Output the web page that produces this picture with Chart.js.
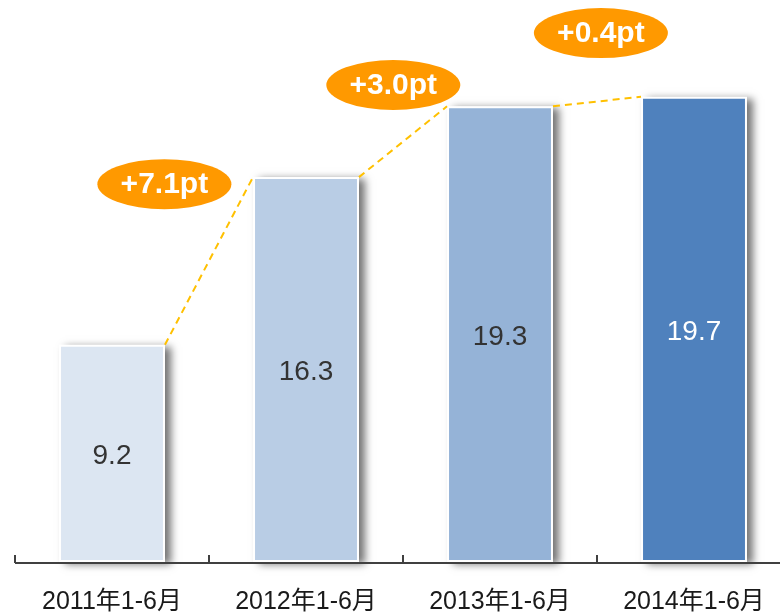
<!DOCTYPE html>
<html>
<head>
<meta charset="utf-8">
<script src="https://cdn.jsdelivr.net/npm/chart.js@4"></script>
<style>
    html, body { margin: 0; padding: 0; background: #fff; overflow: hidden; }
    #wrap { width: 780px; height: 613px; overflow: hidden; }
</style>
</head>
<body>
<div id="wrap"><canvas id="chart" width="791" height="613"></canvas></div>
<script>
// données
const categories = ['2011年1-6月', '2012年1-6月', '2013年1-6月', '2014年1-6月'];
const values = [9.2, 16.3, 19.3, 19.7];
const changeLabels = ['+7.1pt', '+3.0pt', '+0.4pt'];

// styles
const barColors = ['#DCE6F2', '#B9CDE5', '#95B3D7', '#4F81BD'];
const valueColors = ['#333333', '#333333', '#333333', '#FFFFFF'];
// position des bulles en unités de données (x = index catégorie, y = valeur)
const bubblePos = [
    { x: 0.27, y: 16.0 },
    { x: 1.45, y: 20.2 },
    { x: 2.52, y: 22.4 }
];
const FONT = 'Arial, "Liberation Sans", "Noto Sans CJK SC", sans-serif';

const decorPlugin = {
    id: 'decor',
    beforeDatasetsDraw(chart) {
        const ctx = chart.ctx;
        const meta = chart.getDatasetMeta(0);
        // ombre portée des barres
        meta.data.forEach(bar => {
            const w = bar.width;
            ctx.save();
            ctx.shadowColor = 'rgba(0,0,0,0.55)';
            ctx.shadowBlur = 8;
            ctx.shadowOffsetX = 6;
            ctx.shadowOffsetY = 2;
            ctx.fillStyle = '#fff';
            ctx.fillRect(bar.x - w / 2, bar.y, w, bar.base - bar.y);
            ctx.restore();
        });
    },
    afterDatasetsDraw(chart) {
        const ctx = chart.ctx;
        const xs = chart.scales.x;
        const ys = chart.scales.y;
        const meta = chart.getDatasetMeta(0);
        const area = chart.chartArea;

        // axe horizontal + graduations
        const axisY = area.bottom + 1;
        const half = (xs.getPixelForValue(1) - xs.getPixelForValue(0)) / 2;
        ctx.save();
        ctx.strokeStyle = '#404040';
        ctx.lineWidth = 2;
        ctx.beginPath();
        ctx.moveTo(area.left, axisY);
        ctx.lineTo(chart.width, axisY);
        for (let i = 0; i <= categories.length; i++) {
            const xb = Math.round(xs.getPixelForValue(i) - half);
            ctx.moveTo(xb, axisY);
            ctx.lineTo(xb, axisY - 8);
        }
        ctx.stroke();
        ctx.restore();

        // valeurs dans les barres
        ctx.save();
        ctx.font = '28px ' + FONT;
        ctx.textAlign = 'center';
        ctx.textBaseline = 'middle';
        meta.data.forEach((bar, i) => {
            ctx.fillStyle = valueColors[i];
            ctx.fillText(values[i].toFixed(1), bar.x, (bar.y + bar.base) / 2 + 3);
        });
        ctx.restore();

        // lignes pointillées entre les barres
        ctx.save();
        ctx.strokeStyle = '#FFC000';
        ctx.lineWidth = 2;
        ctx.setLineDash([7, 5]);
        for (let i = 0; i < meta.data.length - 1; i++) {
            const a = meta.data[i];
            const b = meta.data[i + 1];
            ctx.beginPath();
            ctx.moveTo(a.x + a.width / 2, a.y);
            ctx.lineTo(b.x - b.width / 2, b.y);
            ctx.stroke();
        }
        ctx.restore();

        // bulles d'écart
        ctx.save();
        changeLabels.forEach((label, i) => {
            const cx = xs.getPixelForValue(bubblePos[i].x);
            const cy = ys.getPixelForValue(bubblePos[i].y);
            ctx.fillStyle = '#FF9900';
            ctx.beginPath();
            ctx.ellipse(cx, cy, 67, 25, 0, 0, Math.PI * 2);
            ctx.fill();
            ctx.fillStyle = '#FFFFFF';
            ctx.font = 'bold 30px ' + FONT;
            ctx.textAlign = 'center';
            ctx.textBaseline = 'middle';
            ctx.fillText(label, cx, cy + 1);
        });
        ctx.restore();
    }
};

new Chart(document.getElementById('chart').getContext('2d'), {
    type: 'bar',
    data: {
        labels: categories,
        datasets: [{
            data: values,
            backgroundColor: barColors,
            borderColor: '#FFFFFF',
            borderWidth: 2,
            borderSkipped: false,
            barPercentage: 0.546,
            categoryPercentage: 1
        }]
    },
    options: {
        responsive: false,
        animation: false,
        layout: { padding: { left: 15, right: 0, top: 0, bottom: 0 } },
        plugins: {
            legend: { display: false },
            tooltip: { enabled: false }
        },
        scales: {
            x: {
                grid: { display: false, drawTicks: false },
                border: { display: false },
                ticks: {
                    padding: 25,
                    color: '#1a1a1a',
                    font: { family: FONT, size: 25 },
                    maxRotation: 0
                },
                afterFit(scale) {
                    scale.height = 51;
                }
            },
            y: {
                display: false,
                min: 0,
                max: 23.8
            }
        }
    },
    plugins: [decorPlugin]
});
</script>
</body>
</html>
